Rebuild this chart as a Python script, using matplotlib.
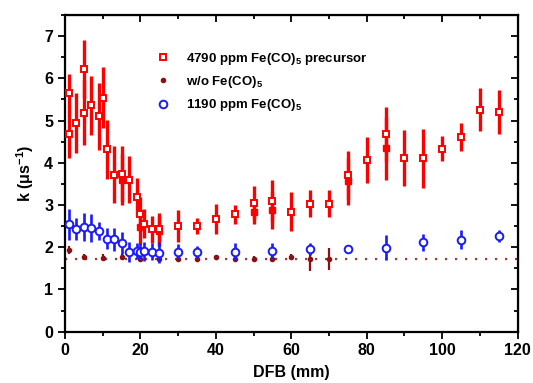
import matplotlib
matplotlib.use('Agg')
import matplotlib.pyplot as plt
from matplotlib.lines import Line2D
from matplotlib.ticker import MultipleLocator

plt.rcParams['font.family'] = ['Liberation Sans', 'DejaVu Sans']
plt.rcParams['font.weight'] = 'bold'
plt.rcParams['mathtext.fontset'] = 'custom'
plt.rcParams['mathtext.bf'] = 'Liberation Sans:bold'
plt.rcParams['mathtext.rm'] = 'Liberation Sans:bold'
plt.rcParams['mathtext.default'] = 'bf'

# 4790 ppm Fe(CO)5 precursor (hollow squares)
x_hi = [1, 1, 3, 5, 5, 7, 9, 10, 11, 13, 15, 17, 19, 20, 21, 23, 25,
        30, 35, 40, 45, 50, 55, 60, 65, 70, 75, 80, 85, 90, 95, 100, 105, 110, 115]
k_hi = [5.66, 4.67, 4.94, 6.22, 5.18, 5.36, 5.10, 5.54, 4.32, 3.72, 3.74, 3.60, 3.19, 2.79, 2.56, 2.42, 2.42,
        2.50, 2.50, 2.67, 2.78, 3.04, 3.09, 2.84, 3.03, 3.03, 3.72, 4.07, 4.67, 4.11, 4.11, 4.33, 4.60, 5.26, 5.21]
err_hi = [0.45, 0.55, 0.72, 0.68, 0.77, 0.70, 0.80, 0.72, 0.70, 0.67, 0.65, 0.55, 0.45, 0.40, 0.34, 0.31, 0.40,
          0.38, 0.18, 0.36, 0.22, 0.40, 0.50, 0.46, 0.32, 0.32, 0.57, 0.55, 0.65, 0.66, 0.70, 0.30, 0.33, 0.52, 0.52]

# repeated measurements of the same series (small filled squares)
x_hi2 = [15, 20, 25, 50, 55, 75, 85]
k_hi2 = [3.60, 2.47, 2.38, 2.84, 2.89, 3.56, 4.34]
err_hi2 = [0.60, 0.40, 0.35, 0.30, 0.45, 0.55, 0.74]

# w/o Fe(CO)5
x_no = [1, 5, 10, 15, 20, 25, 30, 35, 40, 45, 50, 55, 60, 65, 70]
k_no = [1.93, 1.77, 1.75, 1.77, 1.72, 1.72, 1.73, 1.73, 1.76, 1.73, 1.73, 1.73, 1.77, 1.72, 1.72]
err_no = [0.09, 0.08, 0.08, 0.08, 0.08, 0.06, 0.06, 0.06, 0.06, 0.06, 0.06, 0.06, 0.07, 0.28, 0.27]
k_base = 1.72

# 1190 ppm Fe(CO)5 (hollow circles)
x_lo = [1, 3, 5, 7, 9, 11, 13, 15, 17, 19, 20, 21, 23, 25,
        30, 35, 45, 55, 65, 75, 85, 95, 105, 115]
k_lo = [2.54, 2.43, 2.48, 2.46, 2.38, 2.20, 2.19, 2.10, 1.89, 1.91, 1.89, 1.90, 1.89, 1.87,
        1.89, 1.89, 1.89, 1.91, 1.95, 1.95, 1.99, 2.12, 2.18, 2.27]
err_lo = [0.37, 0.26, 0.33, 0.33, 0.22, 0.25, 0.27, 0.25, 0.24, 0.20, 0.20, 0.22, 0.20, 0.25,
          0.18, 0.15, 0.20, 0.20, 0.14, 0.08, 0.30, 0.20, 0.22, 0.14]

red = '#ff0000'
blue = '#1a1aff'
maroon = '#8b1010'

fig = plt.figure(figsize=(5.33, 3.83), dpi=100)
ax = fig.add_axes([0.122, 0.134, 0.849, 0.827])

ax.axhline(k_base, color='#a03a35', linestyle=(0, (1, 3.5)), linewidth=1.6, zorder=1)

ax.errorbar(x_hi, k_hi, yerr=err_hi, fmt='s', color=red, ecolor=red, elinewidth=2.4, capsize=0,
            markersize=5, markeredgewidth=1.4, markerfacecolor='white', zorder=3)
ax.errorbar(x_hi2, k_hi2, yerr=err_hi2, fmt='s', color=red, ecolor=red, elinewidth=2.4, capsize=0,
            markersize=4.5, zorder=2)
ax.errorbar(x_no, k_no, yerr=err_no, fmt='o', color=maroon, ecolor=maroon, elinewidth=1.6, capsize=0,
            markersize=3, zorder=4)
ax.errorbar(x_lo, k_lo, yerr=err_lo, fmt='o', color=blue, ecolor=blue, elinewidth=1.9, capsize=0,
            markersize=5.5, markeredgewidth=1.4, markerfacecolor='white', zorder=5)

ax.set_xlim(0, 120)
ax.set_ylim(0, 7.5)
ax.xaxis.set_major_locator(MultipleLocator(20))
ax.xaxis.set_minor_locator(MultipleLocator(10))
ax.yaxis.set_major_locator(MultipleLocator(1))
ax.yaxis.set_minor_locator(MultipleLocator(0.5))
ax.tick_params(which='both', direction='out', width=1.3, labelsize=11.5)
ax.tick_params(which='major', length=5)
ax.tick_params(which='minor', length=3)
for s in ax.spines.values():
    s.set_linewidth(1.6)

top = ax.secondary_xaxis('top')
top.xaxis.set_major_locator(MultipleLocator(20))
top.xaxis.set_minor_locator(MultipleLocator(10))
top.tick_params(which='both', direction='in', width=1.3, labeltop=False)
top.tick_params(which='major', length=5)
top.tick_params(which='minor', length=3)
right = ax.secondary_yaxis('right')
right.yaxis.set_major_locator(MultipleLocator(1))
right.yaxis.set_minor_locator(MultipleLocator(0.5))
right.tick_params(which='both', direction='in', width=1.3, labelright=False)
right.tick_params(which='major', length=5)
right.tick_params(which='minor', length=3)

ax.set_xlabel('DFB (mm)', fontsize=11.5, fontweight='bold', labelpad=5)
ax.set_ylabel('k (\u03bcs$^{-1}$)', fontsize=11.5, fontweight='bold', labelpad=6)

handles = [
    Line2D([], [], linestyle='none', marker='s', markersize=5, markeredgewidth=1.4,
           color=red, markerfacecolor='white'),
    Line2D([], [], linestyle='none', marker='o', markersize=3, color=maroon),
    Line2D([], [], linestyle='none', marker='o', markersize=5.5, markeredgewidth=1.4,
           color=blue, markerfacecolor='white'),
]
labels = ['4790 ppm Fe(CO)$_5$ precursor', 'w/o Fe(CO)$_5$', '1190 ppm Fe(CO)$_5$']
ax.legend(handles, labels, loc='upper left', bbox_to_anchor=(0.203, 0.887), frameon=False,
          borderpad=0, borderaxespad=0, handlelength=1.0, handletextpad=1.2,
          labelspacing=0.55, prop={'size': 9.5, 'weight': 'bold'})

plt.savefig('out.png', dpi=100)
